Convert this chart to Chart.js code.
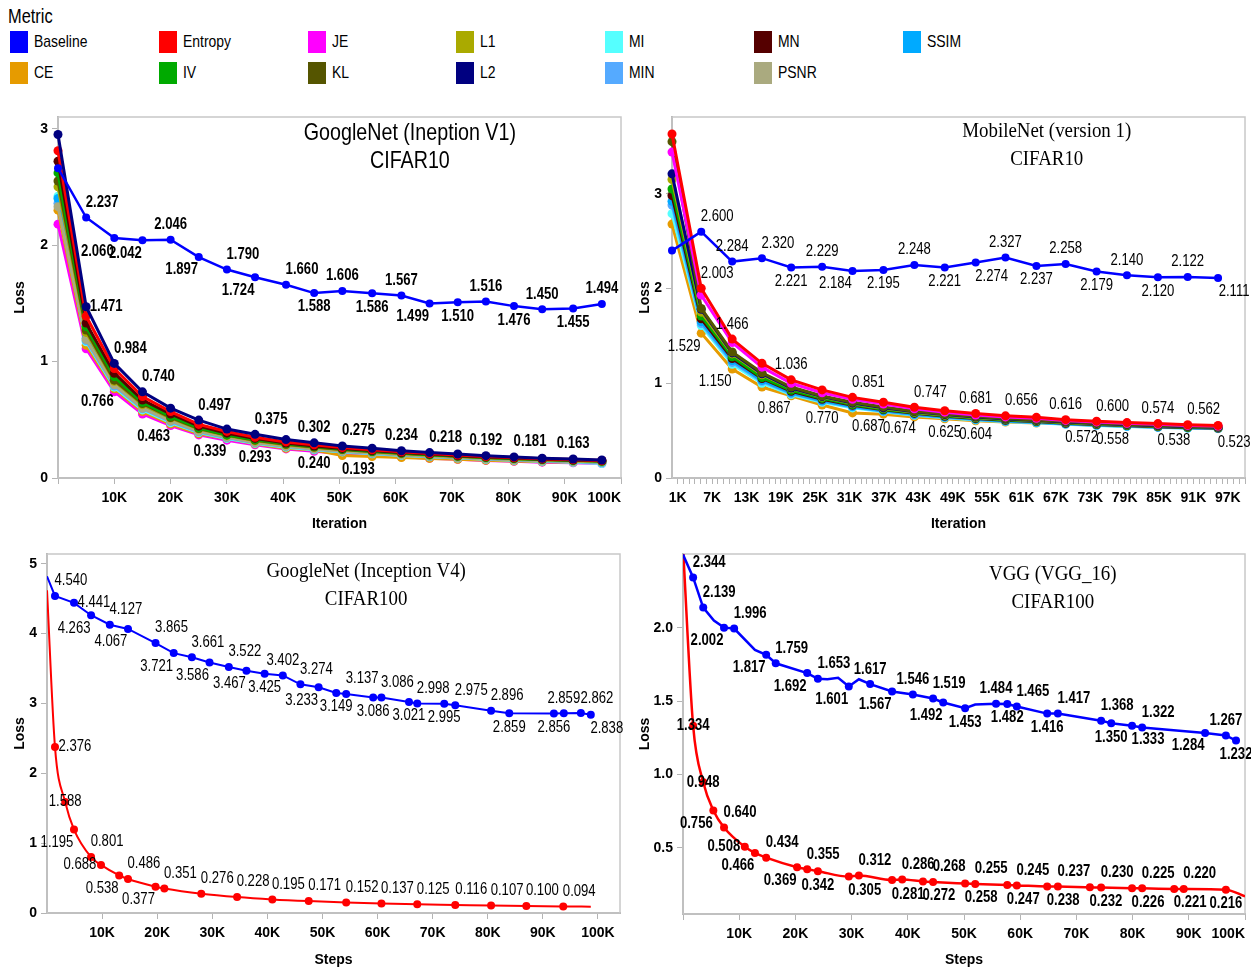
<!DOCTYPE html>
<html>
<head>
<meta charset="utf-8">
<script src="https://cdn.jsdelivr.net/npm/chart.js@4.4.0/dist/chart.umd.min.js"></script>
<style>
  body { margin: 0; background: #fff; width: 1251px; height: 969px; position: relative; overflow: hidden;
         font-family: 'Liberation Sans', Arial, sans-serif; }
  .ttl { position: absolute; left: 8px; top: 4px; font-size: 20px; line-height: 24px;
         transform: scaleX(0.82); transform-origin: 0 50%; }
  .it { position: absolute; height: 22px; font-size: 17px; line-height: 22px; white-space: nowrap; }
  .sw { position: absolute; left: 0; top: 0; width: 18px; height: 22px; }
  .it span { position: absolute; left: 24px; top: 0; transform: scaleX(0.82); transform-origin: 0 50%; }
  canvas { position: absolute; }
</style>
</head>
<body>
<div class="ttl">Metric</div>
<div id="legend"></div>
<canvas id="c1" width="630" height="430" style="left:0;top:110px"></canvas>
<canvas id="c2" width="619" height="430" style="left:632px;top:110px"></canvas>
<canvas id="c3" width="630" height="424" style="left:0;top:545px"></canvas>
<canvas id="c4" width="619" height="424" style="left:632px;top:545px"></canvas>
<script>
// ---- metrics / colours ----
const legendRow1 = ['Baseline', 'Entropy', 'JE', 'L1', 'MI', 'MN', 'SSIM'];
const legendRow2 = ['CE', 'IV', 'KL', 'L2', 'MIN', 'PSNR'];
const colors = {
  Baseline: '#0000ff', Entropy: '#ff0000', JE: '#ff00ff', L1: '#aaaa00', MI: '#55ffff',
  MN: '#550000', SSIM: '#00aaff', CE: '#e69b00', IV: '#00aa00', KL: '#555500',
  L2: '#000080', MIN: '#55aaff', PSNR: '#aaaa7f'
};

// ---- GoogleNet (Inception V1) / CIFAR10, iterations in K ----
const inc1Iter     = [0, 5, 10, 15, 20, 25, 30, 35, 40.5, 45.5, 50.5, 55.8, 61, 66, 71, 76, 81, 86, 91.5, 96.6];
const inc1Baseline = [2.66, 2.237, 2.060, 2.042, 2.046, 1.897, 1.790, 1.724, 1.660, 1.588, 1.606, 1.586, 1.567, 1.499, 1.510, 1.516, 1.476, 1.450, 1.455, 1.494];
const inc1L2       = [2.95, 1.471, 0.984, 0.740, 0.60, 0.497, 0.42, 0.375, 0.33, 0.302, 0.275, 0.255, 0.234, 0.218, 0.206, 0.192, 0.181, 0.17, 0.163, 0.155];
const inc1Entropy  = [2.81, 1.39, 0.94, 0.70, 0.57, 0.46, 0.40, 0.35, 0.31, 0.285, 0.262, 0.243, 0.225, 0.21, 0.197, 0.185, 0.175, 0.165, 0.158, 0.15];
const inc1MN       = [2.72, 1.33, 0.90, 0.67, 0.55, 0.445, 0.385, 0.34, 0.30, 0.275, 0.254, 0.236, 0.219, 0.205, 0.192, 0.181, 0.171, 0.162, 0.155, 0.148];
const inc1IV       = [2.62, 1.30, 0.87, 0.65, 0.53, 0.43, 0.37, 0.33, 0.295, 0.27, 0.248, 0.23, 0.214, 0.2, 0.188, 0.177, 0.168, 0.159, 0.152, 0.145];
const inc1KL       = [2.55, 1.27, 0.84, 0.64, 0.52, 0.425, 0.37, 0.325, 0.29, 0.266, 0.245, 0.228, 0.212, 0.199, 0.187, 0.176, 0.167, 0.158, 0.152, 0.146];
const inc1L1       = [2.50, 1.25, 0.83, 0.63, 0.515, 0.42, 0.365, 0.32, 0.285, 0.262, 0.242, 0.225, 0.209, 0.196, 0.184, 0.174, 0.164, 0.156, 0.149, 0.142];
const inc1PSNR     = [2.33, 1.19, 0.80, 0.60, 0.49, 0.40, 0.35, 0.305, 0.272, 0.25, 0.23, 0.214, 0.2, 0.187, 0.176, 0.166, 0.157, 0.149, 0.142, 0.136];
const inc1SSIM     = [2.40, 1.20, 0.81, 0.61, 0.495, 0.405, 0.352, 0.31, 0.276, 0.253, 0.233, 0.216, 0.201, 0.189, 0.178, 0.167, 0.158, 0.15, 0.143, 0.135];
const inc1MIN      = [2.36, 1.18, 0.79, 0.595, 0.485, 0.395, 0.345, 0.302, 0.27, 0.247, 0.228, 0.212, 0.198, 0.185, 0.174, 0.164, 0.155, 0.147, 0.14, 0.133];
const inc1MI       = [2.42, 1.17, 0.78, 0.585, 0.475, 0.39, 0.34, 0.298, 0.265, 0.243, 0.224, 0.208, 0.194, 0.182, 0.171, 0.161, 0.152, 0.144, 0.135, 0.125];
const inc1CE       = [2.30, 1.14, 0.766, 0.57, 0.463, 0.38, 0.339, 0.293, 0.255, 0.240, 0.193, 0.185, 0.176, 0.168, 0.16, 0.152, 0.146, 0.14, 0.135, 0.13];
const inc1JE       = [2.18, 1.11, 0.74, 0.55, 0.45, 0.37, 0.325, 0.285, 0.25, 0.23, 0.21, 0.195, 0.182, 0.17, 0.16, 0.151, 0.143, 0.136, 0.13, 0.125];
const inc1XTicks   = [0, 10, 20, 30, 40, 50, 60, 70, 80, 90, 100];
const inc1YTicks   = [0, 1, 2, 3];

// ---- MobileNet (version 1) / CIFAR10 ----
const mobIter     = [0, 5.1, 10.5, 15.7, 20.8, 26.2, 31.5, 36.9, 42.3, 47.6, 53, 58.2, 63.6, 68.7, 74.1, 79.4, 84.8, 90, 95.3];
const mobBaseline = [2.4, 2.600, 2.284, 2.320, 2.221, 2.229, 2.184, 2.195, 2.248, 2.221, 2.274, 2.327, 2.237, 2.258, 2.179, 2.140, 2.120, 2.122, 2.111];
const mobEntropy  = [3.63, 2.003, 1.466, 1.21, 1.036, 0.93, 0.851, 0.80, 0.747, 0.71, 0.681, 0.656, 0.64, 0.616, 0.600, 0.585, 0.574, 0.562, 0.555];
const mobJE       = [3.44, 1.93, 1.43, 1.17, 1.00, 0.90, 0.83, 0.78, 0.73, 0.695, 0.665, 0.645, 0.63, 0.608, 0.592, 0.578, 0.566, 0.555, 0.548];
const mobKL       = [3.55, 1.79, 1.33, 1.11, 0.96, 0.865, 0.80, 0.75, 0.705, 0.675, 0.648, 0.628, 0.613, 0.595, 0.58, 0.567, 0.556, 0.546, 0.54];
const mobL2       = [3.21, 1.78, 1.32, 1.10, 0.95, 0.86, 0.79, 0.74, 0.70, 0.67, 0.643, 0.623, 0.608, 0.59, 0.576, 0.563, 0.552, 0.542, 0.536];
const mobL1       = [3.15, 1.75, 1.31, 1.09, 0.945, 0.855, 0.785, 0.735, 0.695, 0.665, 0.638, 0.619, 0.604, 0.587, 0.573, 0.56, 0.549, 0.54, 0.533];
const mobIV       = [3.05, 1.71, 1.28, 1.06, 0.925, 0.84, 0.775, 0.725, 0.688, 0.658, 0.632, 0.614, 0.599, 0.582, 0.568, 0.556, 0.545, 0.536, 0.53];
const mobMN       = [2.98, 1.68, 1.26, 1.05, 0.915, 0.83, 0.768, 0.72, 0.682, 0.652, 0.627, 0.609, 0.595, 0.578, 0.565, 0.553, 0.542, 0.534, 0.528];
const mobPSNR     = [3.0, 1.70, 1.27, 1.055, 0.92, 0.835, 0.77, 0.722, 0.685, 0.655, 0.63, 0.611, 0.597, 0.58, 0.566, 0.554, 0.544, 0.535, 0.529];
const mobSSIM     = [2.92, 1.65, 1.24, 1.03, 0.90, 0.815, 0.755, 0.71, 0.672, 0.643, 0.62, 0.602, 0.588, 0.572, 0.559, 0.548, 0.538, 0.53, 0.524];
const mobMIN      = [2.88, 1.63, 1.22, 1.02, 0.89, 0.81, 0.75, 0.705, 0.668, 0.64, 0.617, 0.6, 0.586, 0.57, 0.557, 0.546, 0.536, 0.528, 0.522];
const mobMI       = [2.79, 1.61, 1.20, 1.00, 0.88, 0.80, 0.74, 0.70, 0.662, 0.636, 0.613, 0.596, 0.583, 0.567, 0.555, 0.544, 0.534, 0.527, 0.521];
const mobCE       = [2.68, 1.529, 1.150, 0.96, 0.867, 0.770, 0.687, 0.674, 0.645, 0.625, 0.604, 0.59, 0.58, 0.572, 0.558, 0.548, 0.538, 0.53, 0.523];
const mobXLabels  = [1, 7, 13, 19, 25, 31, 37, 43, 49, 55, 61, 67, 73, 79, 85, 91, 97];
const mobYTicks   = [0, 1, 2, 3];

// ---- GoogleNet (Inception V4) / CIFAR100, steps in K ----
const inc4BaseSteps = [0, 1.45, 4.9, 8.0, 11.4, 14.7, 19.7, 23.0, 26.3, 29.5, 33.0, 36.2, 39.5, 42.8, 46.0, 49.3, 52.5, 54.3, 59.2, 60.7, 65.7, 67.2, 72.1, 74.1, 80.6, 83.9, 92.0, 93.8, 96.9, 98.7];
const inc4Baseline  = [4.82, 4.540, 4.441, 4.263, 4.127, 4.067, 3.865, 3.721, 3.661, 3.586, 3.522, 3.467, 3.425, 3.402, 3.274, 3.233, 3.149, 3.137, 3.086, 3.086, 3.021, 2.998, 2.995, 2.975, 2.896, 2.859, 2.856, 2.859, 2.862, 2.838];
const inc4EntSteps  = [0, 1.45, 3.3, 4.9, 8.0, 9.8, 13.1, 14.7, 19.7, 21.3, 28.0, 34.5, 40.9, 47.5, 54.3, 60.7, 67.2, 74.1, 80.6, 87.0, 93.7, 98.7];
const inc4Entropy   = [4.62, 2.376, 1.588, 1.195, 0.801, 0.688, 0.538, 0.486, 0.377, 0.351, 0.276, 0.228, 0.195, 0.171, 0.152, 0.137, 0.125, 0.116, 0.107, 0.100, 0.094, 0.09];
const inc4XTicks    = [10, 20, 30, 40, 50, 60, 70, 80, 90, 100];
const inc4YTicks    = [0, 1, 2, 3, 4, 5];

// ---- VGG (VGG_16) / CIFAR100 ----
const vggBaseSteps = [0, 1.8, 3.6, 5.5, 7.3, 9.1, 12.8, 14.8, 16.5, 22.1, 24.0, 25.7, 27.6, 29.5, 31.3, 33.3, 37.2, 40.9, 44.5, 46.3, 50.2, 52.0, 55.7, 57.7, 59.4, 64.8, 66.7, 74.4, 76.2, 79.9, 81.7, 92.9, 96.6, 98.4];
const vggBaseline  = [2.5, 2.344, 2.139, 2.05, 2.002, 1.996, 1.85, 1.817, 1.759, 1.692, 1.653, 1.65, 1.66, 1.601, 1.65, 1.617, 1.567, 1.546, 1.519, 1.492, 1.453, 1.478, 1.484, 1.482, 1.465, 1.416, 1.417, 1.368, 1.350, 1.333, 1.322, 1.284, 1.267, 1.232];
const vggEntSteps  = [0, 1.8, 3.6, 5.4, 7.3, 11.0, 12.8, 14.8, 20.3, 22.1, 24.0, 29.5, 31.3, 37.2, 39.0, 42.7, 44.5, 50.2, 52.0, 57.7, 59.4, 64.8, 66.7, 72.4, 74.4, 79.9, 81.7, 87.4, 89.1, 96.6, 100];
const vggEntropy   = [2.55, 1.334, 0.948, 0.756, 0.640, 0.508, 0.466, 0.434, 0.369, 0.355, 0.342, 0.305, 0.312, 0.281, 0.286, 0.272, 0.268, 0.258, 0.255, 0.247, 0.245, 0.238, 0.237, 0.232, 0.230, 0.226, 0.225, 0.221, 0.220, 0.216, 0.17];
const vggXTicks    = [0, 10, 20, 30, 40, 50, 60, 70, 80, 90, 100];
const vggYTicks    = [0.5, 1.0, 1.5, 2.0];

// value label placement, one char per point
// a above, b below, A above-right, B below-right, L below-left, r right, l left, c on point,
// . marker only, _ no marker
const inc1BaselineLbl = '.ALLaLALAbabaLbababa';
const inc1L2Lbl       = '.rAA.A.A.aA.aA.aA.a.';
const inc1CELbl       = '..L.L.Lb.bB.........';
const mobBaselineLbl  = '.AaAbaLbabBabababaB';
const mobEntropyLbl   = '.Aa.a.A.A.aA.aA.aA.';
const mobCELbl        = '.LL.LbBB.bb..BB.B.B';
const inc4BaselineLbl = '_ArLALALALALbaALbAbAbAbAAbbaAB';
const inc4EntropyLbl  = '_rcLAlLALAAAAAAAAAAAA_';
const vggBaselineLbl  = '_AA_LA_LALA__L_aLaALb_abAbAAbBALab';
const vggEntropyLbl   = '_ccLAlLALAbBABABABABABABABABAb_';

// ---------------------------------------------------------------
const SANS = "'Liberation Sans', Arial, sans-serif";
const SERIF = "'Liberation Serif', 'Times New Roman', serif";
const NARROW_X = 0.82;   // squeeze Liberation Sans into an Arial-Narrow look

// legend
const leg = document.getElementById('legend');
[legendRow1, legendRow2].forEach((row, r) => {
  row.forEach((name, c) => {
    const d = document.createElement('div');
    d.className = 'it';
    d.style.left = (10 + c * 148.8) + 'px';
    d.style.top = (31 + r * 31) + 'px';
    d.innerHTML = '<div class="sw" style="background:' + colors[name] + '"></div><span>' + name + '</span>';
    leg.appendChild(d);
  });
});

const OFF = { a: [0, -15], b: [0, 14], A: [16, -15], B: [16, 14], L: [-17, 13], r: [20, 0], l: [-21, 0], c: [0, 0] };

function squeezedText(ctx, s, x, y, sx) {
  ctx.save();
  ctx.translate(x, y);
  ctx.scale(sx, 1);
  ctx.fillText(s, 0, 0);
  ctx.restore();
}

const pointLabels = {
  id: 'pointLabels',
  afterDatasetsDraw(chart, args, opts) {
    const ctx = chart.ctx;
    ctx.save();
    ctx.font = opts.font;
    ctx.fillStyle = '#000';
    ctx.textAlign = 'center';
    ctx.textBaseline = 'middle';
    chart.data.datasets.forEach((ds, di) => {
      if (!ds.lbl) return;
      chart.getDatasetMeta(di).data.forEach((pt, i) => {
        const o = OFF[ds.lbl[i]];
        if (!o) return;
        squeezedText(ctx, ds.data[i].y.toFixed(3), pt.x + o[0], pt.y + o[1], NARROW_X);
      });
    });
    ctx.restore();
  }
};

function makeDeco(t) {
  return {
    id: 'deco',
    beforeDatasetsDraw(chart) {
      const { ctx, chartArea: a } = chart;
      ctx.save();
      ctx.strokeStyle = '#c8c8c8';
      ctx.lineWidth = 1.5;
      ctx.strokeRect(a.left, a.top, a.right - a.left, a.bottom - a.top);
      ctx.restore();
    },
    afterDraw(chart) {
      const { ctx, chartArea: a } = chart;
      ctx.save();
      ctx.font = t.font;
      ctx.fillStyle = '#000';
      ctx.textAlign = 'center';
      ctx.textBaseline = 'middle';
      const cx = a.left + t.cx * (a.right - a.left);
      t.lines.forEach((s, i) => squeezedText(ctx, s, cx, a.top + t.y[i], t.sx));
      ctx.restore();
    }
  };
}

function series(name, xs, ys, lbl, o) {
  return Object.assign({
    label: name,
    data: xs.map((x, i) => ({ x: x, y: ys[i] })),
    borderColor: colors[name],
    backgroundColor: colors[name],
    borderWidth: 2.5,
    pointRadius: (c) => (lbl && lbl[c.dataIndex] === '_') ? 0 : 4,
    pointBorderWidth: 0,
    lbl: lbl
  }, o || {});
}

const tickFont = { family: SANS, size: 14, weight: 'bold' };
const axisTitleFont = { family: SANS, size: 14, weight: 'bold' };

function makeChart(id, p) {
  const el = document.getElementById(id);
  const W = el.width, H = el.height;
  return new Chart(el, {
    type: 'line',
    data: { datasets: p.datasets },
    options: {
      responsive: false,
      animation: false,
      layout: { padding: { left: 0, top: p.area.top, right: W - p.area.right, bottom: 0 } },
      plugins: {
        legend: { display: false },
        tooltip: { enabled: false },
        pointLabels: { font: p.labelFont }
      },
      scales: {
        x: {
          type: 'linear',
          min: p.xMin, max: p.xMax,
          afterBuildTicks: (s) => { s.ticks = p.xTicks.map(v => ({ value: v })); },
          afterFit: (s) => { s.height = H - p.area.bottom; s.paddingLeft = 0; s.paddingRight = 0; },
          ticks: { autoSkip: false, maxRotation: 0, minRotation: 0, padding: 6, align: p.xAlign,
                   color: '#000', font: tickFont, callback: p.xLabel },
          grid: { drawOnChartArea: false, tickLength: 6, color: '#b4b4b4' },
          border: { color: '#a8a8a8', width: 2 },
          title: { display: true, text: p.xTitle, color: '#000', font: axisTitleFont,
                   padding: { top: 0, bottom: p.xTitlePad } }
        },
        y: {
          min: p.yMin, max: p.yMax,
          afterBuildTicks: (s) => { s.ticks = p.yTicks.map(v => ({ value: v })); },
          afterFit: (s) => { s.width = p.area.left; s.paddingTop = 0; s.paddingBottom = 0; },
          ticks: { padding: 4, color: '#000', font: tickFont, callback: p.yLabel },
          grid: { drawOnChartArea: false, tickLength: 6, color: '#b4b4b4' },
          border: { color: '#a8a8a8', width: 2 },
          title: { display: true, text: 'Loss', color: '#000', font: axisTitleFont,
                   padding: { top: p.yTitlePad, bottom: 0 } }
        }
      }
    },
    plugins: [pointLabels, makeDeco(p.title)]
  });
}

const kLabel = (v) => v === 0 ? '' : v + 'K';
const clusterStyle = { borderWidth: 3, pointRadius: 4.5, clip: 8 };

// GoogleNet V1
makeChart('c1', {
  area: { left: 58, right: 621, top: 7, bottom: 368 },
  xMin: 0, xMax: 100, xTicks: inc1XTicks, xLabel: kLabel, xAlign: 'inner',
  yMin: 0, yMax: 3.1, yTicks: inc1YTicks, yLabel: (v) => v,
  xTitle: 'Iteration', xTitlePad: 7, yTitlePad: 12,
  labelFont: 'bold 16px ' + SANS,
  title: { lines: ['GoogleNet (Ineption V1)', 'CIFAR10'], font: '24px ' + SANS, cx: 0.625, y: [16, 44], sx: NARROW_X },
  datasets: [
    series('Baseline', inc1Iter, inc1Baseline, inc1BaselineLbl, { borderWidth: 2.5, clip: 8 }),
    series('L2', inc1Iter, inc1L2, inc1L2Lbl, clusterStyle),
    series('Entropy', inc1Iter, inc1Entropy, '', clusterStyle),
    series('MN', inc1Iter, inc1MN, '', clusterStyle),
    series('IV', inc1Iter, inc1IV, '', clusterStyle),
    series('KL', inc1Iter, inc1KL, '', clusterStyle),
    series('L1', inc1Iter, inc1L1, '', clusterStyle),
    series('PSNR', inc1Iter, inc1PSNR, '', clusterStyle),
    series('SSIM', inc1Iter, inc1SSIM, '', clusterStyle),
    series('MIN', inc1Iter, inc1MIN, '', clusterStyle),
    series('MI', inc1Iter, inc1MI, '', clusterStyle),
    series('CE', inc1Iter, inc1CE, inc1CELbl, clusterStyle),
    series('JE', inc1Iter, inc1JE, '', clusterStyle)
  ]
});

// MobileNet
const mobMinor = [];
for (let k = 1; k <= 100; k++) mobMinor.push(k);
makeChart('c2', {
  area: { left: 40, right: 613, top: 7, bottom: 368 },
  xMin: 0, xMax: 100, xTicks: mobMinor, xAlign: 'center',
  xLabel: (v) => mobXLabels.includes(v) ? v + 'K' : '',
  yMin: 0, yMax: 3.81, yTicks: mobYTicks, yLabel: (v) => v,
  xTitle: 'Iteration', xTitlePad: 7, yTitlePad: 5,
  labelFont: '16px ' + SANS,
  title: { lines: ['MobileNet (version 1)', 'CIFAR10'], font: '21px ' + SERIF, cx: 0.654, y: [14, 42], sx: 0.9 },
  datasets: [
    series('Baseline', mobIter, mobBaseline, mobBaselineLbl, { borderWidth: 2.5, clip: 8 }),
    series('Entropy', mobIter, mobEntropy, mobEntropyLbl, clusterStyle),
    series('JE', mobIter, mobJE, '', clusterStyle),
    series('KL', mobIter, mobKL, '', clusterStyle),
    series('L2', mobIter, mobL2, '', clusterStyle),
    series('L1', mobIter, mobL1, '', clusterStyle),
    series('IV', mobIter, mobIV, '', clusterStyle),
    series('MN', mobIter, mobMN, '', clusterStyle),
    series('PSNR', mobIter, mobPSNR, '', clusterStyle),
    series('SSIM', mobIter, mobSSIM, '', clusterStyle),
    series('MIN', mobIter, mobMIN, '', clusterStyle),
    series('MI', mobIter, mobMI, '', clusterStyle),
    series('CE', mobIter, mobCE, mobCELbl, clusterStyle)
  ]
});

// GoogleNet V4
makeChart('c3', {
  area: { left: 47, right: 620, top: 9, bottom: 368 },
  xMin: 0, xMax: 104, xTicks: inc4XTicks, xLabel: kLabel, xAlign: 'center',
  yMin: 0, yMax: 5.14, yTicks: inc4YTicks, yLabel: (v) => v,
  xTitle: 'Steps', xTitlePad: 0, yTitlePad: 12,
  labelFont: '16px ' + SANS,
  title: { lines: ['GoogleNet (Inception V4)', 'CIFAR100'], font: '21px ' + SERIF, cx: 0.557, y: [17, 45], sx: 0.9 },
  datasets: [
    series('Baseline', inc4BaseSteps, inc4Baseline, inc4BaselineLbl, { borderWidth: 2 }),
    series('Entropy', inc4EntSteps, inc4Entropy, inc4EntropyLbl, { borderWidth: 2, cubicInterpolationMode: 'monotone' })
  ]
});

// VGG16
makeChart('c4', {
  area: { left: 51, right: 613, top: 9, bottom: 369 },
  xMin: 0, xMax: 100, xTicks: vggXTicks, xLabel: kLabel, xAlign: 'inner',
  yMin: 0.05, yMax: 2.504, yTicks: vggYTicks, yLabel: (v) => v.toFixed(1),
  xTitle: 'Steps', xTitlePad: 0, yTitlePad: 5,
  labelFont: 'bold 16px ' + SANS,
  title: { lines: ['VGG (VGG_16)', 'CIFAR100'], font: '21px ' + SERIF, cx: 0.658, y: [20, 48], sx: 0.9 },
  datasets: [
    series('Baseline', vggBaseSteps, vggBaseline, vggBaselineLbl, { borderWidth: 2.5 }),
    series('Entropy', vggEntSteps, vggEntropy, vggEntropyLbl, { borderWidth: 2.5, cubicInterpolationMode: 'monotone' })
  ]
});
</script>
</body>
</html>
